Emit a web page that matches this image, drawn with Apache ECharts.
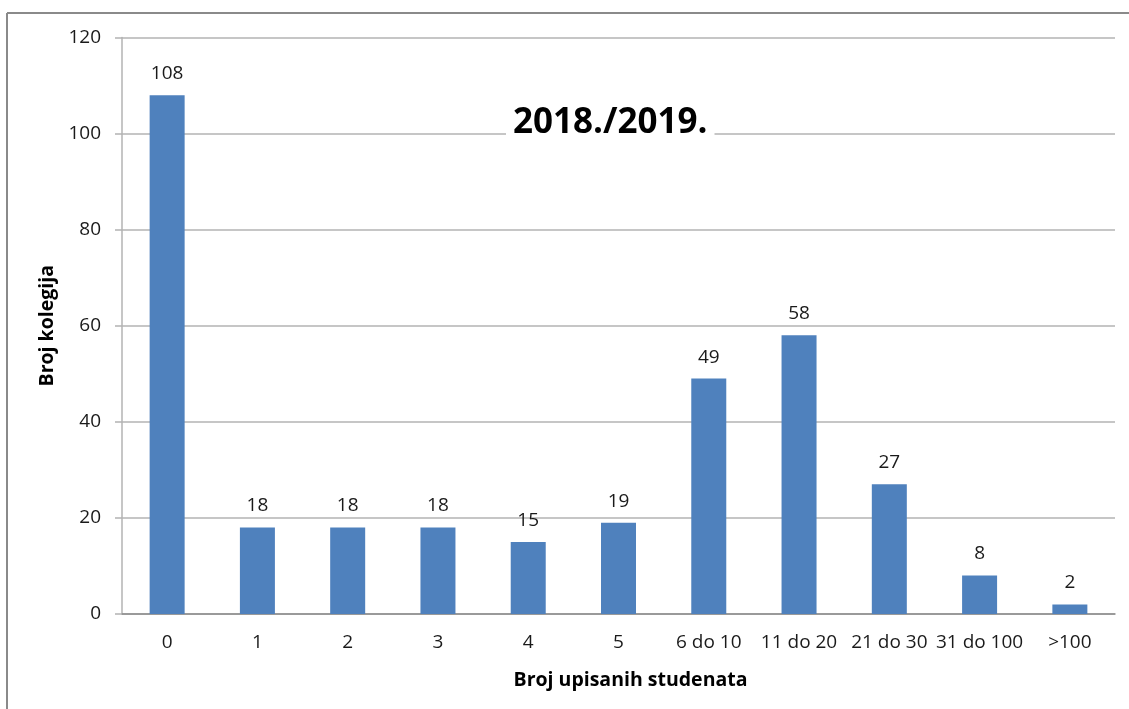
<!DOCTYPE html>
<html>
<head>
<meta charset="utf-8">
<script src="https://cdn.jsdelivr.net/npm/echarts@6/dist/echarts.min.js"></script>
<style>
  html, body { margin: 0; padding: 0; background: #fff; }
  #chart { width: 1129px; height: 709px; }
</style>
</head>
<body>
<div id="chart"></div>
<script>
// Number of courses by number of enrolled students, academic year 2018./2019.
const categories = ['0', '1', '2', '3', '4', '5', '6 do 10', '11 do 20', '21 do 30', '31 do 100', '>100'];
const courseCounts = [108, 18, 18, 18, 15, 19, 49, 58, 27, 8, 2];
const yTicks = { min: 0, max: 120, interval: 20 };

const FONT = '"Open Sans", "Noto Sans", sans-serif';
const chart = echarts.init(document.getElementById('chart'), null, { renderer: 'canvas' });

chart.setOption({
  animation: false,
  backgroundColor: '#ffffff',
  title: {
    text: '2018./2019.',
    left: 506,
    top: 106,
    padding: [0, 7, 0, 7],
    backgroundColor: '#ffffff',
    textStyle: { fontFamily: FONT, fontWeight: 'bold', fontSize: 35, color: '#000000' }
  },
  grid: { left: 122, right: 14, top: 37.5, bottom: 95, containLabel: false },
  xAxis: {
    type: 'category',
    data: categories,
    name: 'Broj upisanih studenata',
    nameLocation: 'middle',
    nameGap: 56,
    nameTextStyle: { fontFamily: FONT, fontWeight: 'bold', fontSize: 19.5, color: '#000', padding: [0, 0, 0, 24] },
    axisLine: { lineStyle: { color: '#8c8c8c', width: 1.5 } },
    axisTick: { show: false },
    axisLabel: { fontFamily: FONT, fontSize: 19, color: '#1a1a1a', margin: 19, interval: 0 }
  },
  yAxis: {
    type: 'value',
    min: yTicks.min,
    max: yTicks.max,
    interval: yTicks.interval,
    name: 'Broj kolegija',
    nameLocation: 'middle',
    nameGap: 65,
    nameRotate: 90,
    nameTextStyle: { fontFamily: FONT, fontWeight: 'bold', fontSize: 19.5, color: '#000' },
    axisLine: { show: true, lineStyle: { color: '#b3b3b3', width: 1.5 } },
    axisTick: { show: true, length: 7, lineStyle: { color: '#b3b3b3', width: 1.5 } },
    axisLabel: { fontFamily: FONT, fontSize: 19, color: '#1a1a1a', margin: 21 },
    splitLine: { lineStyle: { color: '#b3b3b3', width: 1.5 } }
  },
  series: [{
    type: 'bar',
    data: courseCounts,
    barWidth: 35,
    itemStyle: { color: '#4f81bd' },
    label: {
      show: true,
      position: 'top',
      distance: 12,
      fontFamily: FONT,
      fontSize: 19,
      color: '#1a1a1a'
    }
  }],
  graphic: [
    { type: 'line', shape: { x1: 7, y1: 13, x2: 1129, y2: 13 }, style: { stroke: '#8a8a8a', lineWidth: 2 }, z: 100 },
    { type: 'line', shape: { x1: 7, y1: 13, x2: 7, y2: 709 }, style: { stroke: '#8a8a8a', lineWidth: 2 }, z: 100 }
  ]
});
</script>
</body>
</html>
